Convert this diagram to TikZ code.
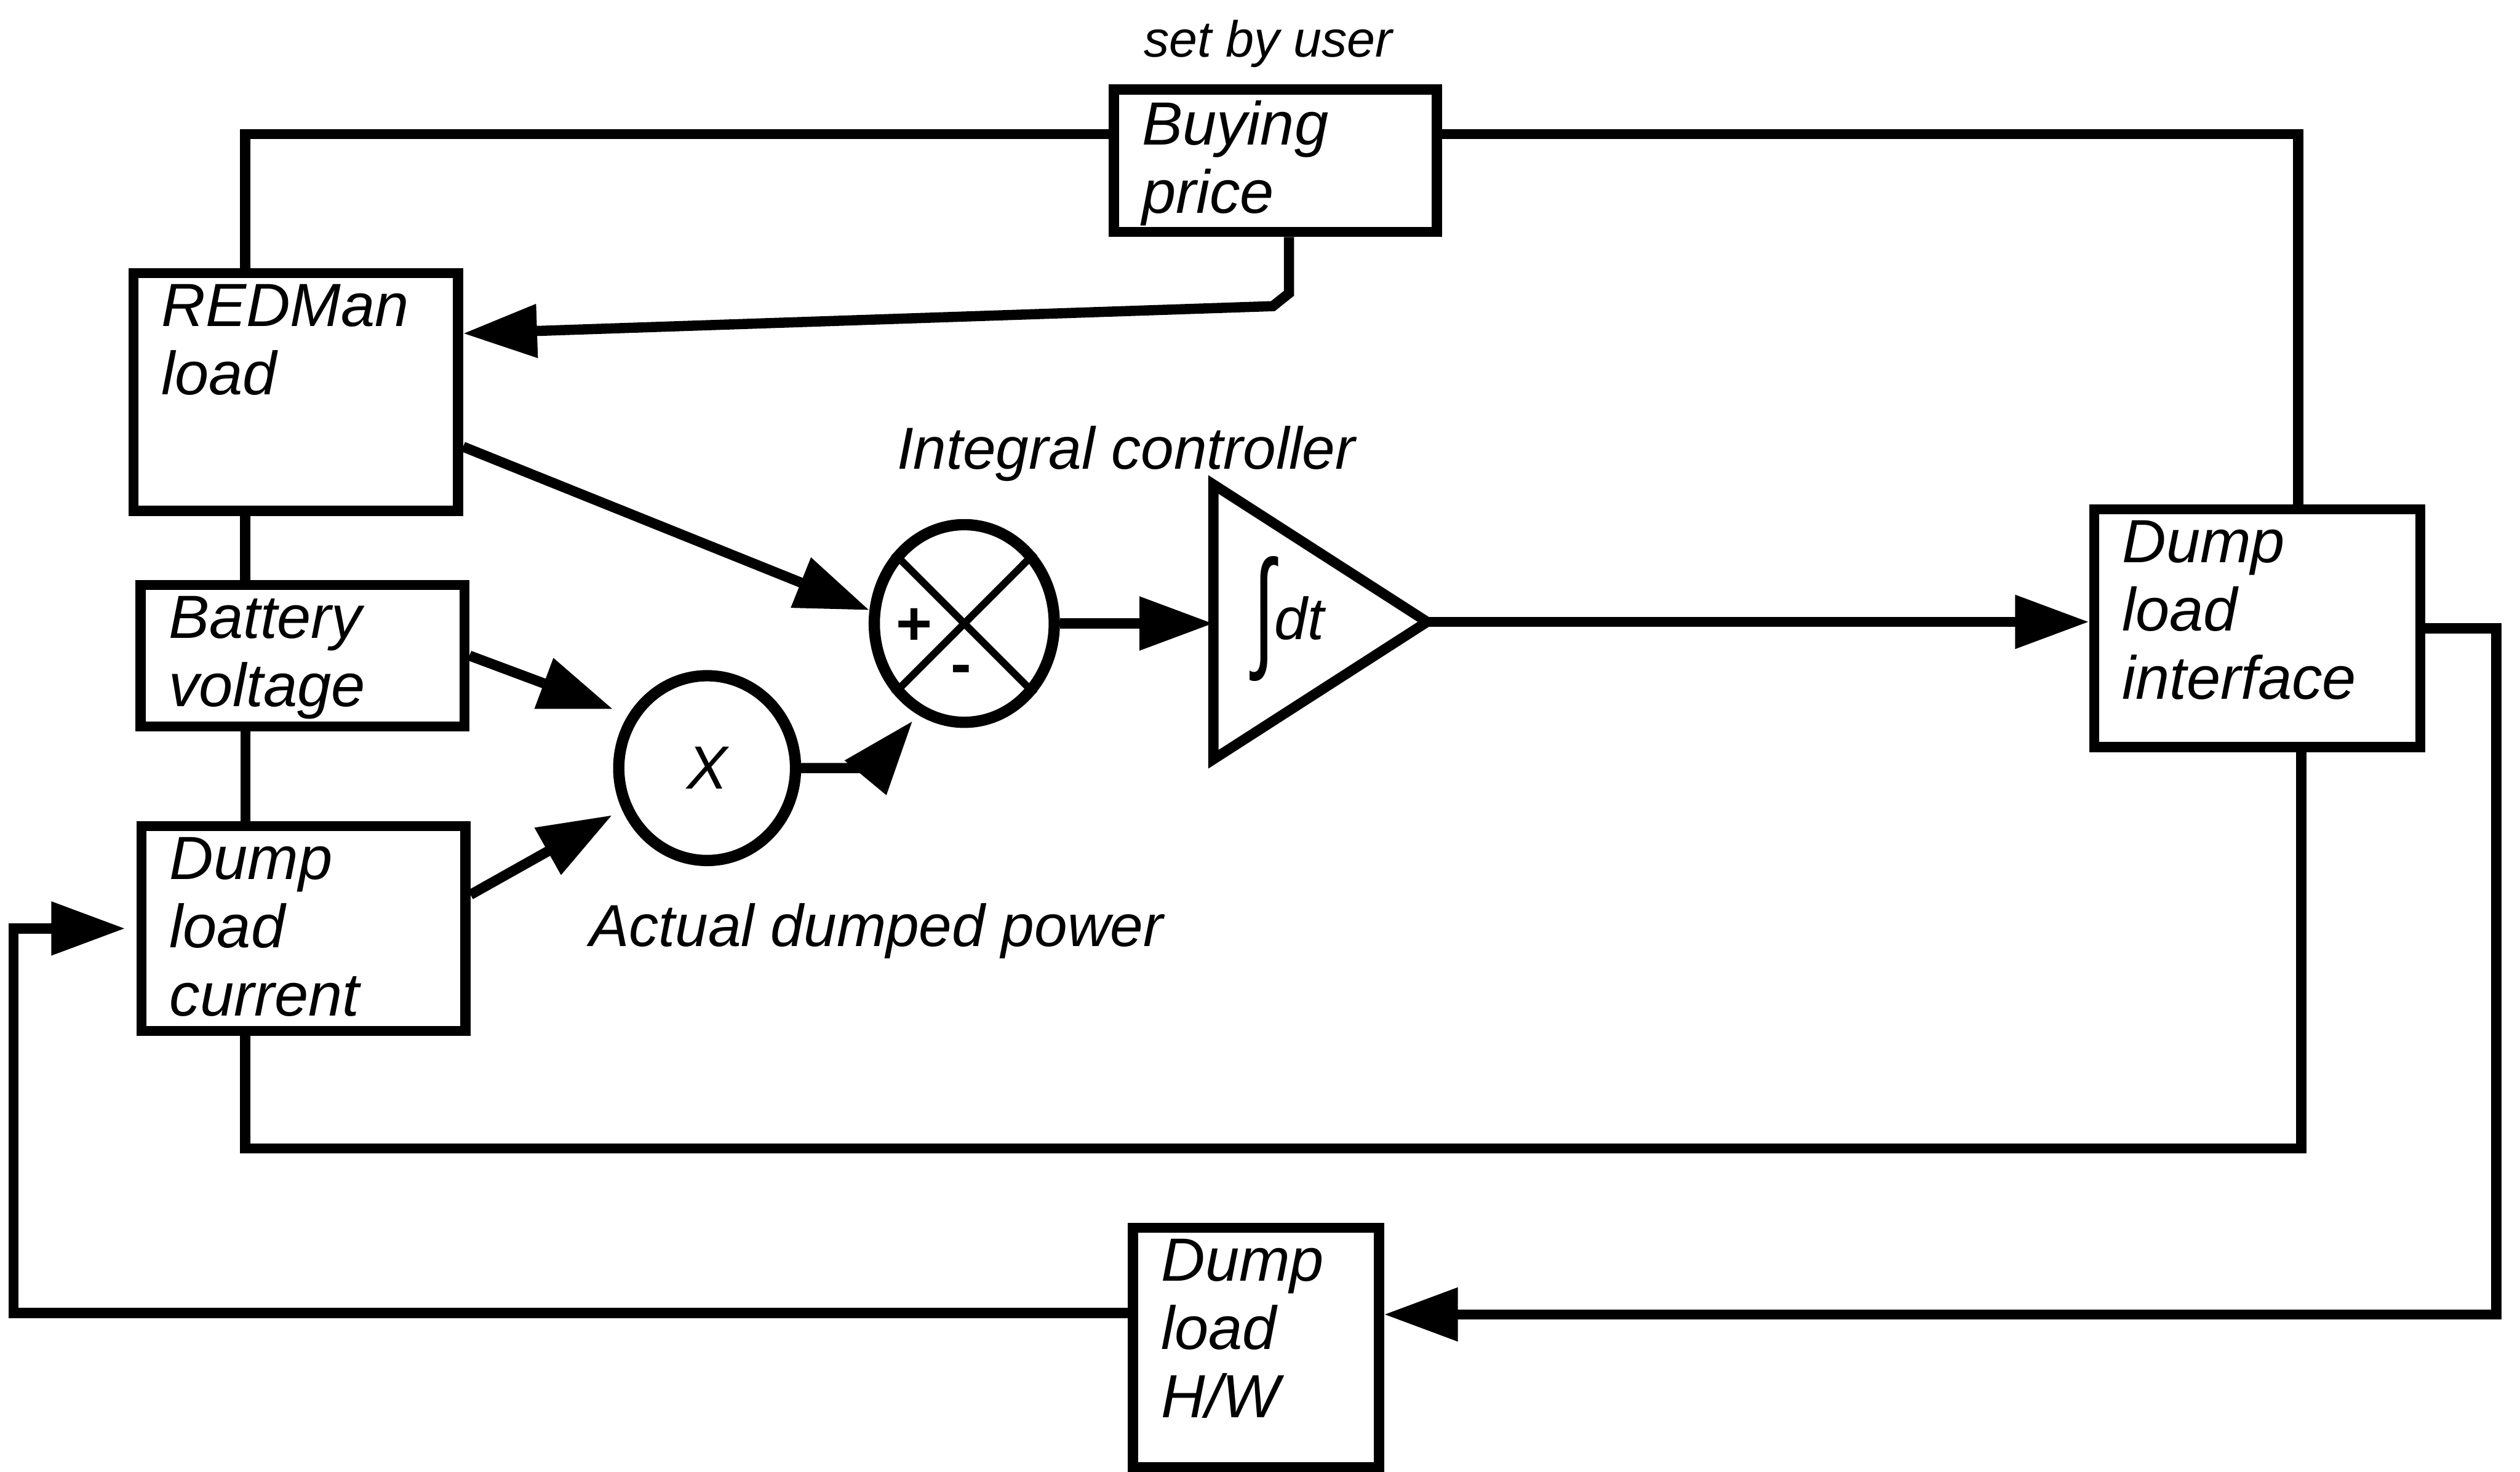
\documentclass[tikz,border=0pt]{standalone}
\usepackage{fontspec}
\setmainfont{Liberation Sans}
\usetikzlibrary{arrows.meta,shapes.geometric}

\tikzset{
  blk/.style={draw, line width=1.8pt, inner sep=0pt},
  txt/.style={font=\fontsize{10.8pt}{12.1pt}\selectfont\itshape, align=left,
    inner sep=0pt, anchor=north west, xshift=2mm, yshift=-0.95mm},
  sj/.style={draw, ellipse, line width=2pt, inner sep=0pt},
  tri/.style={draw, isosceles triangle, isosceles triangle stretches,
    minimum width=17.1mm, minimum height=13.3mm, inner sep=0pt, outer sep=0pt, line width=1.8pt},
  sign/.style={font=\fontsize{11pt}{11pt}\selectfont\bfseries, inner sep=0pt},
  note/.style={font=\fontsize{10.5pt}{12pt}\selectfont\itshape, inner sep=0pt, anchor=base},
  wire/.style={line width=1.8pt},
  arr/.style={wire, -{Triangle[length=4.6mm, width=3.2mm]}},
}

\begin{document}
\begin{tikzpicture}[x=0.1mm, y=-0.1mm]
    \useasboundingbox (0,0) rectangle (1568,916);

    % blocks
    \node[blk, minimum width=20.1mm, minimum height=8.87mm, label={[txt]north west:{Buying\\price}}] (price) at (793.5,100) {};
    \node[blk, minimum width=20.2mm, minimum height=14.8mm, label={[txt]north west:{REDMan\\load}}] (redman) at (184,244) {};
    \node[blk, minimum width=20.15mm, minimum height=8.8mm, label={[txt]north west:{Battery\\voltage}}] (batt) at (188.2,408) {};
    \node[blk, minimum width=20.15mm, minimum height=12.75mm, label={[txt]north west:{Dump\\load\\current}}] (dlc) at (188.8,577.8) {};
    \node[blk, minimum width=20.3mm, minimum height=14.8mm, label={[txt]north west:{Dump\\load\\interface}}] (dli) at (1404.5,391) {};
    \node[blk, minimum width=15.3mm, minimum height=14.9mm, label={[txt]north west:{Dump\\load\\H/W}}] (hw) at (781.5,838.5) {};

    % summing junction, multiplier, integrator
    \node[sj, minimum width=11.2mm, minimum height=12.3mm] (sum) at (600,388) {};
    \draw[line width=1.3pt] (sum.45) -- (sum.225) (sum.135) -- (sum.315);
    \node[sign] (plus) at (569,390) {+};
    \node[sign] (minus) at (598,420) {-};
    \node[sj, minimum width=11mm, minimum height=11.5mm, font=\fontsize{10.8pt}{12pt}\selectfont\itshape] (mul) at (440,478) {X};
    \node[tri, anchor=apex] (int) at (888,387) {};
    \node[note, anchor=center] (intlbl) at (802,385) {\raisebox{-0.8mm}{\scalebox{1.3}[2.2]{∫}}dt};

    % labels
    \node[note, font=\fontsize{9pt}{10pt}\selectfont\itshape] (user) at (789,35.4) {set by user};
    \node[note] (ctrl) at (700.7,292) {Integral controller};
    \node[note] (power) at (545.3,589) {Actual dumped power};

    % bus lines
    \draw[wire] ([yshift=1.65mm]price.west) -| ([xshift=-3.15mm]redman.north);
    \draw[wire] ([yshift=1.65mm]price.east) -| ([xshift=2.55mm]dli.north);
    \draw[wire] ([xshift=-3.15mm]redman.south) -- ([xshift=-3.15mm]redman.south |- batt.north);
    \draw[wire] ([xshift=-3.55mm]batt.south) -- ([xshift=-3.55mm]batt.south |- dlc.north);
    \draw[wire] ([xshift=-3.63mm]dlc.south) -- ++(0,70) -| ([xshift=2.75mm]dli.south);

    % signals
    \draw[arr] ([xshift=0.85mm]price.south) -- ++(0,35) -- ++(-10,8) -- ([yshift=3.65mm]redman.east);
    \draw[arr] ([yshift=-3.4mm]redman.east) -- (sum.172);
    \draw[arr, shorten >=1mm] (batt.east) -- (mul.146);
    \draw[arr, shorten >=0.7mm] ([yshift=2.1mm]dlc.east) -- (mul.206);
    \draw[arr, shorten >=0.5mm] (mul.east) -- ++(45,0) -- (sum.243);
    \draw[arr] (sum.east) -- (sum.east -| int.lower side);
    \draw[arr] (int.apex) -- (int.apex -| dli.west);
    \draw[arr] (dli.east) -- ++(44,0) |- ([yshift=2.05mm]hw.east);
    \draw[arr, shorten >=0.7mm] ([yshift=2.15mm]hw.west) -| ([xshift=-7.64mm]dlc.west) -- (dlc.west);
\end{tikzpicture}
\end{document}
